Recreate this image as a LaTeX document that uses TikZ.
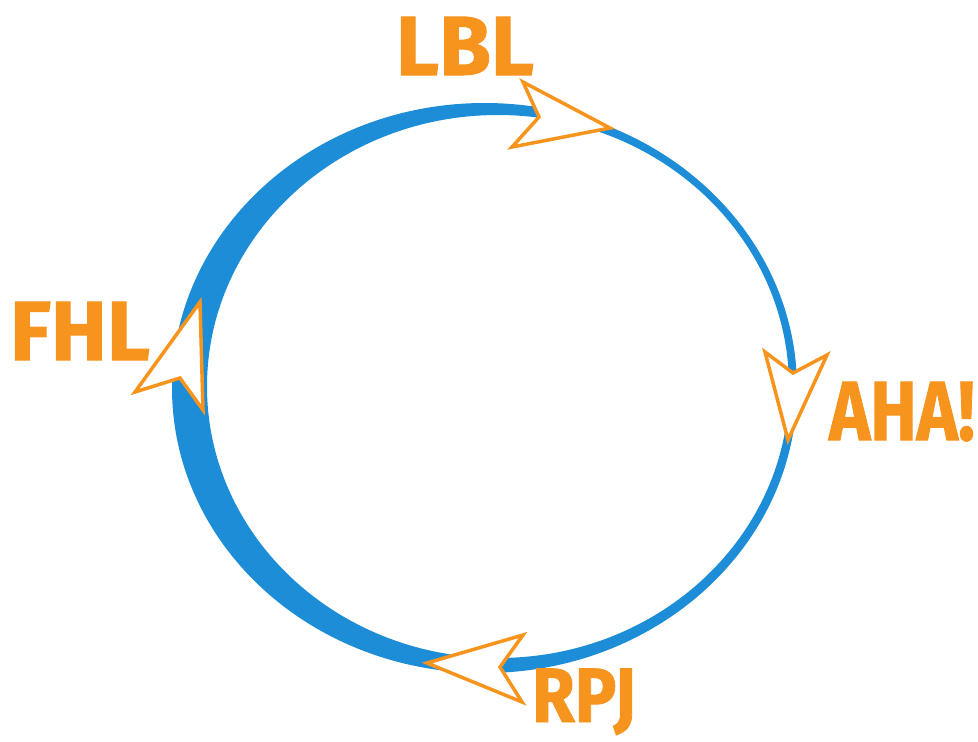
\documentclass[tikz,border=0pt]{standalone}
\usepackage{fontspec}
\setmainfont{Fira Sans}
\newfontfamily\tagfont{Fira Sans}[BoldFeatures={FakeBold=1.2}]
\definecolor{ringblue}{RGB}{28,141,214}
\definecolor{tagorange}{RGB}{247,148,30}

\begin{document}
\begin{tikzpicture}[x=1pt,y=-1pt]
    \tikzstyle{ann} = [text=tagorange,font=\fontsize{84}{84}\tagfont\bfseries,inner sep=0,anchor=base,transform shape]
    \tikzstyle{dart} = [draw=tagorange,fill=white,line width=3.5pt,line join=miter]
    \useasboundingbox (0,0) rectangle (978,742);

    % the ring, thicker on the left
    \fill[ringblue,even odd rule] (484.5,388) ellipse [x radius=312.5,y radius=285]
        (498,386.5) ellipse [x radius=291,y radius=271.5];

    % arrow heads on the ring
    \draw[dart] (610,128) -- (523,82) -- (539,117) -- (512,147) -- cycle;
    \draw[dart] (788,440) -- (765,352) -- (793,373) -- (827,355) -- cycle;
    \draw[dart] (427,663) -- (523,635) -- (500,667) -- (522,702) -- cycle;
    \draw[dart] (200,302) -- (135,392) -- (180,378) -- (203,410) -- cycle;

    % labels
    \node[ann] (lbl) at (465,75) {LBL};
    \node[ann,xscale=0.83] (aha) at (902,440) {AHA!};
    \node[ann,xscale=0.9,font=\fontsize{77}{77}\tagfont\bfseries] (rpj) at (584,722) {RPJ};
    \node[ann] (fhl) at (80,360) {FHL};
\end{tikzpicture}
\end{document}
